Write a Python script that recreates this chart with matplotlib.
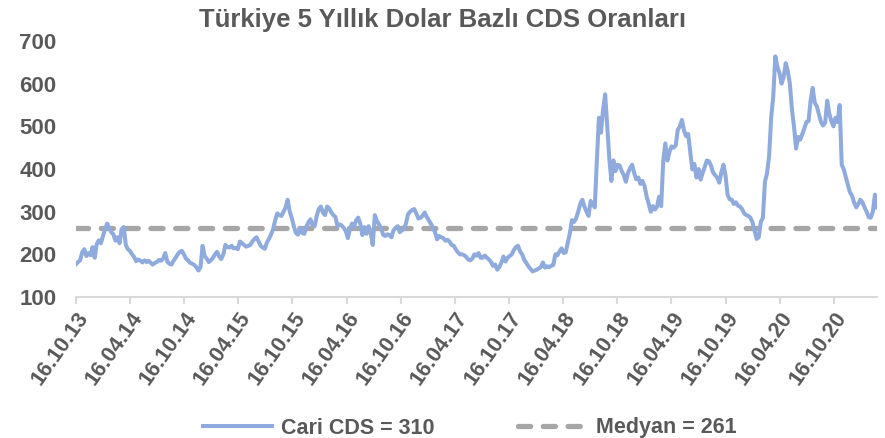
import numpy as np
import pandas as pd
import matplotlib
matplotlib.use("Agg")
import matplotlib.pyplot as plt
import matplotlib.dates as mdates


TITLE = "Türkiye 5 Yıllık Dolar Bazlı CDS Oranları"
START_DATE = "2013-10-16"
MEDIAN = 261
CURRENT = 310

# weekly readings, one row = half a year (26 weeks)
CDS = [
    177, 182, 186, 205, 212, 196, 203, 198, 217, 192, 224, 233, 226, 243, 258, 272, 262, 252, 247, 232, 240, 226, 259, 264, 222, 212,
    208, 200, 194, 184, 188, 185, 181, 186, 182, 185, 180, 176, 180, 182, 187, 185, 190, 203, 183, 178, 176, 185, 192, 200, 206, 208,
    200, 190, 186, 180, 178, 175, 170, 162, 170, 220, 196, 190, 182, 186, 192, 200, 206, 195, 189, 200, 222, 217, 216, 220, 214, 215,
    212, 230, 226, 222, 218, 220, 222, 230, 236, 240, 230, 220, 216, 213, 228, 236, 247, 259, 280, 296, 292, 290, 300, 310, 328, 300,
    285, 265, 250, 246, 262, 250, 248, 264, 275, 282, 268, 266, 290, 306, 312, 298, 292, 312, 308, 298, 292, 288, 266, 270, 268, 262,
    255, 238, 259, 272, 265, 280, 286, 272, 245, 264, 248, 266, 250, 222, 292, 278, 270, 262, 246, 243, 247, 245, 240, 256, 262, 266,
    252, 256, 260, 272, 294, 300, 304, 306, 296, 284, 286, 290, 298, 288, 280, 272, 262, 252, 235, 243, 240, 238, 232, 234, 230, 222,
    220, 212, 205, 200, 200, 198, 194, 188, 186, 190, 200, 197, 203, 192, 192, 197, 192, 188, 182, 173, 176, 164, 170, 181, 195, 183,
    192, 196, 200, 210, 217, 220, 207, 200, 187, 180, 172, 166, 160, 162, 164, 167, 170, 181, 169, 172, 170, 173, 175, 200, 198, 207,
    214, 203, 205, 228, 250, 280, 276, 284, 300, 318, 328, 312, 300, 290, 325, 318, 310, 420, 520, 485, 540, 575, 500, 425, 372, 420,
    395, 410, 408, 395, 385, 370, 391, 402, 410, 390, 376, 380, 365, 372, 360, 335, 318, 300, 313, 305, 312, 335, 313, 420, 460, 420,
    440, 453, 450, 455, 492, 500, 515, 490, 477, 482, 440, 399, 412, 380, 400, 375, 391, 405, 420, 418, 408, 392, 385, 380, 368, 392,
    410, 385, 340, 329, 328, 318, 322, 314, 312, 306, 296, 292, 290, 286, 275, 255, 236, 240, 276, 285, 370, 390, 430, 520, 570, 664,
    640, 625, 600, 615, 648, 630, 600, 540, 500, 448, 475, 469, 482, 495, 510, 512, 560, 590, 555, 547, 528, 510, 502, 508, 560, 530,
    512, 500, 520, 510, 550, 410, 399, 380, 362, 345, 337, 321, 310, 318, 328, 322, 310, 300, 287, 286, 300, 340, 310,
]

Y_TICKS = [100, 200, 300, 400, 500, 600, 700]

TEXT_COLOR = "#595959"
LINE_COLOR = "#8FAADC"
MEDIAN_COLOR = "#A6A6A6"
AXIS_COLOR = "#D9D9D9"


def main():
    plt.rcParams["font.family"] = ["Liberation Sans", "DejaVu Sans"]
    plt.rcParams["font.weight"] = "bold"

    dates = pd.date_range(START_DATE, periods=len(CDS), freq="7D")

    fig = plt.figure(figsize=(8.85, 4.38), dpi=100)
    ax = fig.add_axes([76 / 885, 1 - 297 / 438, (877 - 76) / 885, (297 - 41) / 438])

    ax.axhline(MEDIAN, color=MEDIAN_COLOR, lw=3.8, dashes=(2.3, 2.4),
               dash_capstyle="round", zorder=2, label=f"Medyan = {MEDIAN}")
    ax.plot(dates, CDS, color=LINE_COLOR, lw=2.9, solid_joinstyle="round",
            zorder=3, label=f"Cari CDS = {CURRENT}")

    ax.set_ylim(100, 700)
    ax.set_yticks(Y_TICKS)
    ax.set_xlim(dates[0], dates[-1])

    # ticks every six months on the 16th
    ticks = pd.date_range("2013-10-01", "2020-10-01", freq="6MS") + pd.Timedelta(days=15)
    ax.set_xticks(ticks)
    ax.xaxis.set_major_formatter(mdates.DateFormatter("%d.%m.%y"))

    for side in ["top", "right", "left"]:
        ax.spines[side].set_visible(False)
    ax.spines["bottom"].set_color(AXIS_COLOR)
    ax.spines["bottom"].set_linewidth(1.5)

    ax.tick_params(axis="y", length=0, pad=14, labelsize=16, labelcolor=TEXT_COLOR)
    ax.tick_params(axis="x", length=5, width=1.5, color=AXIS_COLOR, pad=3,
                   labelsize=15.5, labelcolor=TEXT_COLOR)
    for lbl in ax.get_xticklabels():
        lbl.set_rotation(55)
        lbl.set_ha("right")
        lbl.set_va("top")
        lbl.set_rotation_mode("anchor")
    for lbl in ax.get_yticklabels() + ax.get_xticklabels():
        lbl.set_fontweight("bold")

    fig.text(0.5, 1 - 20 / 438, TITLE, ha="center", va="center",
             fontsize=18.5, fontweight="bold", color=TEXT_COLOR)

    handles, labels = ax.get_legend_handles_labels()
    leg = fig.legend(handles[::-1], labels[::-1], loc="center", ncol=2,
                     bbox_to_anchor=(470 / 885, 1 - 428 / 438), frameon=False,
                     fontsize=15.5, handlelength=3.2, columnspacing=3.9,
                     handletextpad=0.4)
    for t in leg.get_texts():
        t.set_color(TEXT_COLOR)
        t.set_fontweight("bold")

    fig.savefig("out.png", dpi=100)
    plt.close(fig)


if __name__ == "__main__":
    main()
